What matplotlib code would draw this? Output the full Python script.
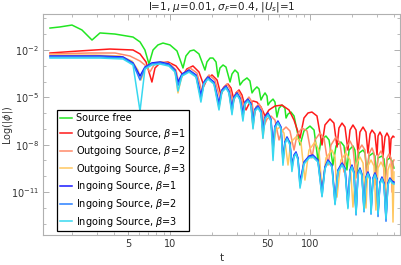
import numpy as np
import matplotlib
matplotlib.use('Agg')
import matplotlib.pyplot as plt
from matplotlib.ticker import FixedLocator, FixedFormatter, NullFormatter

plt.rcParams['font.family'] = ['DejaVu Sans']
plt.rcParams['mathtext.fontset'] = 'dejavusans'

# ---------------- data: log10(t) and log10(|phi|) ----------------
# Source free
lt_free = [0.143, 0.214, 0.300, 0.371, 0.443, 0.500, 0.607, 0.736, 0.786, 0.821, 0.850,
           0.879, 0.914, 0.950, 1.000, 1.050, 1.093,
           1.114, 1.143, 1.171, 1.207, 1.250,
           1.264, 1.286, 1.307, 1.329, 1.343,
           1.357, 1.379, 1.400, 1.429,
           1.443, 1.464, 1.486, 1.500,
           1.521, 1.550, 1.571, 1.586,
           1.600, 1.621, 1.636, 1.650,
           1.664, 1.679, 1.693, 1.700,
           1.714, 1.736, 1.750, 1.764,
           1.779, 1.800, 1.821, 1.829,
           1.843, 1.864, 1.886, 1.929,
           1.957, 2.000, 2.029, 2.057,
           2.079, 2.114, 2.136, 2.164,
           2.186, 2.221, 2.243, 2.264,
           2.279, 2.307, 2.321, 2.336,
           2.350, 2.379, 2.393, 2.407,
           2.421, 2.450, 2.464, 2.471,
           2.486, 2.514, 2.529, 2.536,
           2.550, 2.571, 2.586, 2.600]
L_free = [-0.61, -0.54, -0.42, -0.73, -1.37, -0.92, -0.99, -1.18, -1.49, -2.00, -2.89,
          -2.00, -1.68, -1.56, -1.68, -2.06, -3.14,
          -2.38, -2.06, -2.00, -2.25, -3.27,
          -2.76, -2.51, -2.51, -2.76, -3.71,
          -3.14, -2.95, -3.08, -4.03,
          -3.52, -3.27, -3.46, -4.22,
          -3.96, -3.77, -3.96, -4.72,
          -4.53, -4.34, -4.47, -5.17,
          -4.92, -4.72, -4.92, -5.49,
          -5.30, -5.11, -5.30, -6.25,
          -5.68, -5.49, -5.68, -6.31,
          -6.06, -5.93, -6.18, -8.02,
          -7.13, -6.82, -7.07, -8.97,
          -7.70, -7.45, -7.70, -9.29,
          -8.08, -7.83, -8.08, -9.60,
          -8.34, -8.08, -8.34, -9.73,
          -8.53, -8.34, -8.53, -9.86,
          -8.72, -8.53, -8.72, -9.98,
          -8.84, -8.72, -8.91, -10.11,
          -8.97, -8.84, -9.03, -9.48]

# Outgoing source, beta = 1
lt_out1 = [0.143, 0.357, 0.571, 0.736, 0.786, 0.829, 0.871,
           0.893, 0.929, 0.986, 1.043, 1.093,
           1.121, 1.164, 1.207, 1.243,
           1.264, 1.300, 1.336, 1.364,
           1.386, 1.414, 1.436, 1.457,
           1.471, 1.493, 1.514, 1.543,
           1.564, 1.593, 1.621, 1.650, 1.679,
           1.707, 1.750, 1.800, 1.850, 1.886, 1.929,
           1.957, 1.986, 2.014, 2.050, 2.086,
           2.107, 2.143, 2.171, 2.193,
           2.207, 2.229, 2.250, 2.271,
           2.286, 2.307, 2.329, 2.343,
           2.357, 2.379, 2.400, 2.414,
           2.429, 2.443, 2.464, 2.479,
           2.486, 2.500, 2.514, 2.521,
           2.536, 2.550, 2.564, 2.571,
           2.579, 2.593, 2.600]
L_out1 = [-2.19, -2.06, -1.94, -2.00, -2.25, -2.76, -4.03,
          -3.14, -2.82, -2.76, -3.01, -3.58,
          -3.20, -3.01, -3.39, -4.28,
          -3.84, -3.58, -3.90, -4.85,
          -4.34, -4.15, -4.41, -5.17,
          -4.72, -4.53, -4.85, -5.80,
          -5.42, -5.23, -5.30, -5.61, -6.18,
          -5.80, -5.55, -5.49, -5.80, -6.44, -7.58,
          -6.31, -5.99, -5.93, -6.18, -8.02,
          -6.75, -6.37, -6.63, -8.15,
          -6.94, -6.63, -6.88, -8.34,
          -7.07, -6.75, -7.07, -8.53,
          -7.20, -6.88, -7.20, -8.53,
          -7.32, -7.07, -7.32, -8.65,
          -7.45, -7.20, -7.45, -8.78,
          -7.51, -7.26, -7.51, -8.84,
          -7.64, -7.45, -7.51]

# Outgoing source, beta = 2
lt_out2 = [0.143, 0.429, 0.607, 0.714, 0.786, 0.829, 0.857,
           0.886, 0.936, 1.000, 1.043, 1.064,
           1.093, 1.143, 1.193, 1.229,
           1.250, 1.279, 1.321, 1.357,
           1.379, 1.407, 1.429, 1.450,
           1.464, 1.486, 1.507, 1.529,
           1.543, 1.564, 1.586, 1.600,
           1.614, 1.636, 1.657, 1.671,
           1.693, 1.721, 1.750, 1.779,
           1.800, 1.829, 1.857, 1.886,
           1.907, 1.943, 1.979, 2.014,
           2.036, 2.071, 2.100, 2.129,
           2.150, 2.186, 2.214, 2.243,
           2.257, 2.286, 2.307, 2.329,
           2.343, 2.371, 2.393, 2.407,
           2.421, 2.443, 2.457, 2.471,
           2.486, 2.507, 2.521, 2.536,
           2.550, 2.564, 2.579, 2.586,
           2.593, 2.600]
L_out2 = [-2.25, -2.19, -2.19, -2.38, -2.70, -3.01, -3.39,
          -2.95, -2.76, -2.89, -3.27, -4.15,
          -3.52, -3.14, -3.46, -4.66,
          -3.90, -3.58, -3.90, -5.04,
          -4.41, -4.15, -4.47, -5.42,
          -4.85, -4.60, -4.92, -5.80,
          -5.23, -4.98, -5.30, -6.31,
          -5.61, -5.42, -5.74, -6.82,
          -6.37, -6.18, -6.44, -7.70,
          -7.13, -6.88, -7.13, -8.34,
          -7.39, -6.94, -7.13, -8.84,
          -7.70, -7.26, -7.58, -9.29,
          -8.02, -7.51, -7.89, -9.73,
          -8.21, -7.77, -8.15, -10.11,
          -8.40, -8.02, -8.34, -10.37,
          -8.59, -8.21, -8.53, -10.55,
          -8.72, -8.40, -8.72, -10.87,
          -8.84, -8.59, -8.84, -11.00,
          -9.10, -8.97]

# Outgoing source, beta = 3
lt_out3 = [0.143, 0.464, 0.643, 0.729, 0.771, 0.793,
           0.829, 0.879, 0.936, 1.000, 1.036, 1.057,
           1.086, 1.136, 1.186, 1.221,
           1.243, 1.271, 1.314, 1.350,
           1.371, 1.400, 1.421, 1.443,
           1.457, 1.479, 1.500, 1.521,
           1.536, 1.557, 1.579, 1.593,
           1.607, 1.629, 1.650, 1.664,
           1.679, 1.700, 1.721, 1.736,
           1.757, 1.786, 1.814, 1.843,
           1.864, 1.900, 1.936, 1.964,
           1.993, 2.036, 2.064, 2.086,
           2.114, 2.157, 2.179, 2.193,
           2.221, 2.257, 2.286, 2.307,
           2.329, 2.357, 2.379, 2.400,
           2.414, 2.436, 2.457, 2.471,
           2.486, 2.507, 2.529, 2.543,
           2.557, 2.571, 2.586, 2.593,
           2.600]
L_out3 = [-2.32, -2.32, -2.38, -2.70, -3.27, -3.90,
          -3.01, -2.82, -2.76, -2.89, -3.33, -4.72,
          -3.58, -3.27, -3.65, -5.04,
          -4.09, -3.77, -4.09, -5.68,
          -4.60, -4.34, -4.66, -5.93,
          -5.04, -4.79, -5.11, -6.31,
          -5.36, -5.17, -5.49, -6.94,
          -5.80, -5.61, -5.93, -7.58,
          -6.31, -6.12, -6.50, -8.34,
          -7.07, -6.88, -7.26, -9.29,
          -7.83, -7.51, -7.89, -10.24,
          -8.34, -7.83, -8.34, -10.87,
          -8.84, -8.34, -8.78, -11.32,
          -8.97, -8.53, -8.97, -11.95,
          -9.29, -8.78, -9.16, -12.01,
          -9.35, -8.97, -9.35, -12.14,
          -9.48, -9.10, -9.48, -12.33,
          -9.60, -9.22, -9.60, -12.90,
          -9.73]

# Ingoing sources (beta = 1, 2, 3) share sample times
lt_in = [0.143, 0.500, 0.664, 0.736, 0.786,
         0.821, 0.871, 0.929, 0.993, 1.036, 1.057,
         1.086, 1.136, 1.186, 1.221,
         1.243, 1.271, 1.314, 1.350,
         1.371, 1.400, 1.421, 1.443,
         1.457, 1.479, 1.500, 1.521,
         1.536, 1.557, 1.579, 1.593,
         1.607, 1.629, 1.650, 1.664,
         1.679, 1.700, 1.721, 1.736,
         1.750, 1.771, 1.793, 1.807,
         1.821, 1.836, 1.857, 1.871,
         1.886, 1.900, 1.914, 1.929,
         1.957, 1.993, 2.021, 2.057, 2.086,
         2.107, 2.129, 2.157, 2.179,
         2.200, 2.229, 2.250, 2.271,
         2.286, 2.300, 2.314, 2.329,
         2.343, 2.357, 2.371, 2.386,
         2.400, 2.414, 2.429, 2.436,
         2.450, 2.464, 2.479, 2.486,
         2.500, 2.514, 2.529, 2.543,
         2.557, 2.571, 2.586, 2.600]
L_in1 = [-2.38, -2.38, -2.44, -2.82, -3.65,
         -3.08, -2.82, -2.76, -2.89, -3.27, -4.03,
         -3.52, -3.27, -3.58, -4.85,
         -4.03, -3.71, -4.03, -5.36,
         -4.53, -4.28, -4.60, -5.68,
         -4.98, -4.72, -5.04, -5.99,
         -5.30, -5.11, -5.42, -6.56,
         -5.74, -5.55, -5.87, -7.07,
         -6.25, -5.99, -6.37, -8.02,
         -6.82, -6.50, -6.88, -8.84,
         -7.83, -7.51, -7.89, -9.29,
         -8.65, -8.46, -8.84, -10.37,
         -9.10, -8.72, -8.65, -8.97, -11.00,
         -9.41, -8.97, -9.29, -11.51,
         -9.60, -9.16, -9.48, -11.70,
         -9.60, -9.29, -9.73, -12.27,
         -9.79, -9.48, -9.86, -12.01,
         -10.05, -9.73, -10.11, -12.14,
         -10.11, -9.79, -10.17, -12.33,
         -10.37, -10.05, -10.43, -12.65,
         -10.43, -10.11, -10.30, -10.37]
L_in2 = [-2.44, -2.44, -2.50, -2.88, -3.90,
         -3.14, -2.88, -2.82, -2.95, -3.33, -4.25,
         -3.58, -3.33, -3.64, -5.05,
         -4.09, -3.77, -4.09, -5.55,
         -4.59, -4.34, -4.66, -5.90,
         -5.04, -4.78, -5.10, -6.20,
         -5.36, -5.17, -5.48, -6.80,
         -5.80, -5.61, -5.93, -7.30,
         -6.31, -6.05, -6.43, -8.25,
         -6.88, -6.56, -6.94, -9.10,
         -7.89, -7.57, -7.95, -9.50,
         -8.71, -8.52, -8.90, -10.60,
         -9.16, -8.78, -8.71, -9.03, -11.25,
         -9.47, -9.03, -9.35, -11.75,
         -9.66, -9.22, -9.54, -11.95,
         -9.66, -9.35, -9.79, -12.45,
         -9.85, -9.54, -9.92, -12.25,
         -10.11, -9.79, -10.17, -12.40,
         -10.17, -9.85, -10.23, -12.55,
         -10.43, -10.11, -10.49, -12.85,
         -10.49, -10.17, -10.36, -10.43]
L_in3 = [-2.51, -2.51, -2.57, -2.95, -5.87,
         -3.21, -2.95, -2.89, -3.02, -3.40, -4.60,
         -3.65, -3.40, -3.71, -5.30,
         -4.16, -3.84, -4.16, -5.80,
         -4.66, -4.41, -4.73, -6.10,
         -5.11, -4.85, -5.17, -6.50,
         -5.43, -5.24, -5.55, -7.00,
         -5.87, -5.68, -6.00, -7.60,
         -6.38, -6.12, -6.50, -9.00,
         -6.95, -6.63, -7.01, -9.30,
         -7.96, -7.64, -8.02, -9.70,
         -8.78, -8.59, -8.97, -10.75,
         -9.23, -8.85, -8.78, -9.10, -11.30,
         -9.54, -9.10, -9.42, -11.80,
         -9.73, -9.29, -9.61, -12.05,
         -9.73, -9.42, -9.86, -12.40,
         -9.92, -9.61, -9.99, -12.20,
         -10.18, -9.86, -10.24, -12.35,
         -10.24, -9.92, -10.30, -12.40,
         -10.50, -10.18, -10.56, -12.70,
         -10.56, -10.24, -10.43, -10.50]

labels = ['Source free',
          r'Outgoing Source, $\beta$=1', r'Outgoing Source, $\beta$=2', r'Outgoing Source, $\beta$=3',
          r'Ingoing Source, $\beta$=1', r'Ingoing Source, $\beta$=2', r'Ingoing Source, $\beta$=3']
colors = ['#22e622', '#ff1a1a', '#ff8a6a', '#ffc860', '#1a1aff', '#2a80ff', '#38d8f0']

x_major = [5, 10, 50, 100]
x_major_labels = ['5', '10', '50', '100']
x_minor = [2, 3, 4, 6, 7, 8, 9, 20, 30, 40, 60, 70, 80, 90, 200, 300, 400]
y_major_exp = [-2, -5, -8, -11]
y_minor_exp = [0, -1, -3, -4, -6, -7, -9, -10, -12, -13]

# ---------------- figure ----------------
fig = plt.figure(figsize=(4.01, 2.65), dpi=100)
ax = fig.add_axes([43/401, 1-235/265, 357/401, 221/265])

curves = [(lt_free, L_free), (lt_out1, L_out1), (lt_out2, L_out2), (lt_out3, L_out3),
          (lt_in, L_in1), (lt_in, L_in2), (lt_in, L_in3)]
for (lt, L), c, lab in zip(curves, colors, labels):
    ax.plot(10**np.asarray(lt), 10**np.asarray(L), color=c, lw=1.1, label=lab)

ax.set_xscale('log')
ax.set_yscale('log')
ax.set_xlim(10**0.093, 10**2.643)
ax.set_ylim(10**-13.72, 10**0.28)

ax.xaxis.set_major_locator(FixedLocator(x_major))
ax.xaxis.set_major_formatter(FixedFormatter(x_major_labels))
ax.xaxis.set_minor_locator(FixedLocator(x_minor))
ax.xaxis.set_minor_formatter(NullFormatter())
ax.yaxis.set_major_locator(FixedLocator([10.0**e for e in y_major_exp]))
ax.yaxis.set_major_formatter(FixedFormatter([r'$10^{%d}$' % e for e in y_major_exp]))
ax.yaxis.set_minor_locator(FixedLocator([10.0**e for e in y_minor_exp]))
ax.yaxis.set_minor_formatter(NullFormatter())

frame_col = '#b0b0b0'
for s in ax.spines.values():
    s.set_color(frame_col)
    s.set_linewidth(0.8)
ax.tick_params(which='both', direction='in', top=True, right=True, color=frame_col,
               labelcolor='#333333', labelsize=7, pad=3)
ax.tick_params(which='major', length=4, width=0.7)
ax.tick_params(which='minor', length=2, width=0.6)

leg = ax.legend(loc='upper left', bbox_to_anchor=((57-43)/357, (235-110)/221),
                borderaxespad=0, fontsize=7, frameon=True, fancybox=False,
                edgecolor='black', framealpha=1, handlelength=1.25,
                handletextpad=0.45, labelspacing=0.37, borderpad=0.3)
leg.get_frame().set_linewidth(0.9)

fig.text(222/401, 1-7/265, r'l=1, $\mu$=0.01, $\sigma_F$=0.4, $|U_s|$=1',
         ha='center', va='center', fontsize=7.5, color='#222222')
fig.text(222/401, 1-258/265, 't', ha='center', va='center', fontsize=7.5, color='#333333')
fig.text(8/401, 1-125/265, r'Log(|$\phi$|)', ha='center', va='center', rotation=90,
         fontsize=7, color='#333333')

fig.savefig('out.png', dpi=100)
